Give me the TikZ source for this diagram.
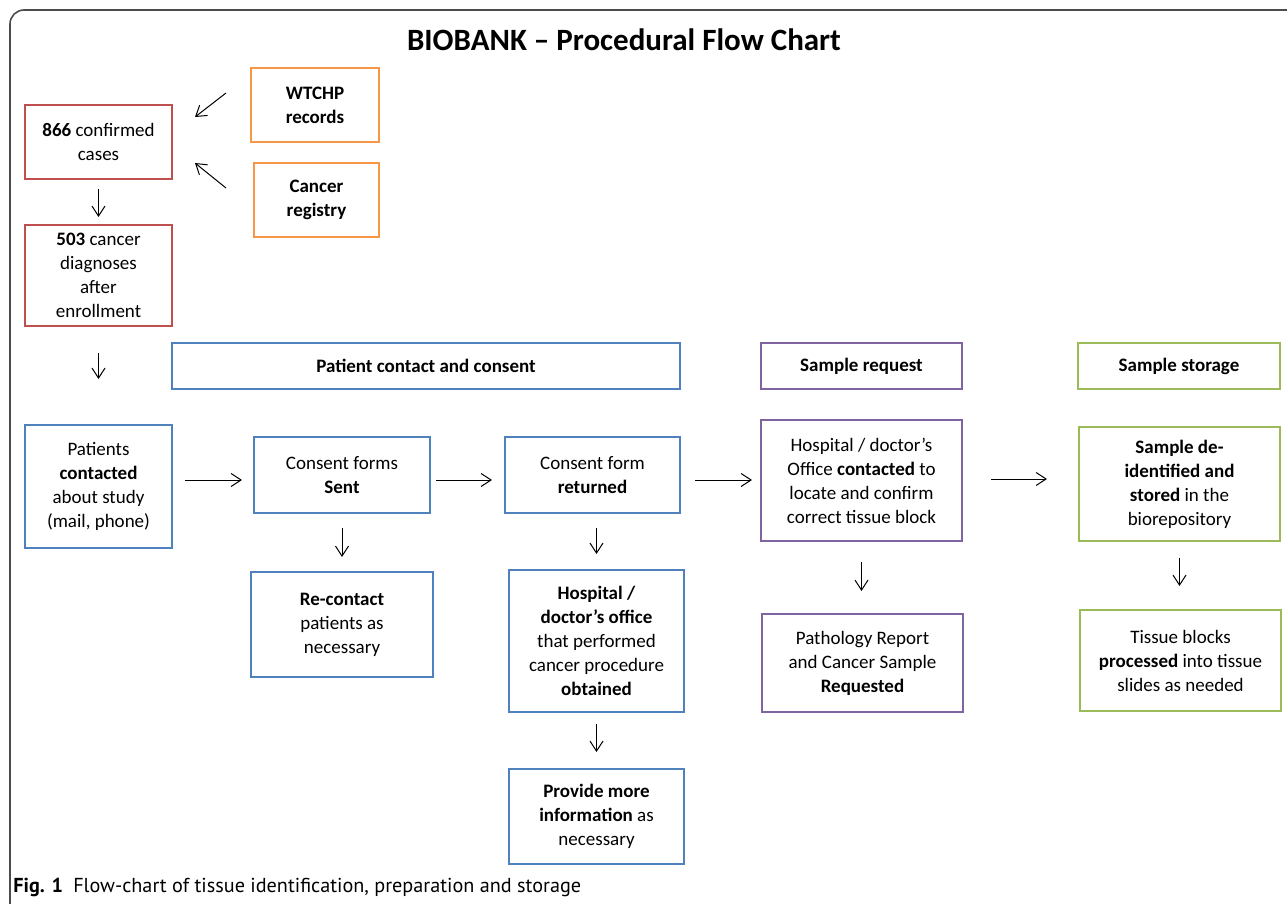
\documentclass[tikz,border=0pt]{standalone}
\usepackage{fontspec}
\setmainfont{Carlito}
\newfontfamily\capfont{PT Sans}
\usetikzlibrary{arrows.meta}
\definecolor{boxred}{HTML}{C0504D}
\definecolor{boxorange}{HTML}{F79646}
\definecolor{boxblue}{HTML}{4F81BD}
\definecolor{boxpurple}{HTML}{8064A2}
\definecolor{boxgreen}{HTML}{9BBB59}

\begin{document}
\begin{tikzpicture}[x=0.5pt,y=-0.5pt,
  stage/.style={draw=#1, line width=1pt, align=center, inner sep=0pt,
    font=\fontsize{9.5}{12}\selectfont},
  head/.style={stage=#1, font=\bfseries\fontsize{9.5}{12}\selectfont,
    minimum height=23pt},
  flow/.style={-{Straight Barb[length=5pt,width=6.5pt]}, line width=0.5pt}]
  \clip (0,0) rectangle (1287,904);
  \draw[line width=0.8pt, draw=black!70, rounded corners=7pt] (10,1000) -- (10,10) -- (1400,10);
  \node[font=\bfseries\fontsize{15.5}{18}\selectfont] (title) at (624,40) {BIOBANK – Procedural Flow Chart};

  % sources and cases
  \node[stage=boxred, minimum width=73.5pt, minimum height=37pt] (c866) at (98.5,142) {\textbf{866} confirmed\\cases};
  \node[stage=boxred, minimum width=73.5pt, minimum height=50.5pt] (c503) at (98.5,275.5) {\textbf{503} cancer\\diagnoses\\after\\enrollment};
  \node[stage=boxorange, minimum width=64pt, minimum height=37pt] (wtchp) at (315,105) {\textbf{WTCHP}\\\textbf{records}};
  \node[stage=boxorange, minimum width=62.5pt, minimum height=37pt] (registry) at (316.5,200) {\textbf{Cancer}\\\textbf{registry}};

  % column headings
  \node[head=boxblue, minimum width=254pt] (hdrconsent) at (426,366) {Patient contact and consent};
  \node[head=boxpurple, minimum width=100.5pt] (hdrrequest) at (861.5,366) {Sample request};
  \node[head=boxgreen, minimum width=101pt] (hdrstorage) at (1179,366) {Sample storage};

  % main row
  \node[stage=boxblue, minimum width=73.5pt, minimum height=61.5pt] (patients) at (98.5,486.5) {Patients\\\textbf{contacted}\\about study\\(mail, phone)};
  \node[stage=boxblue, minimum width=88pt, minimum height=38pt] (sent) at (342,475) {Consent forms\\\textbf{Sent}};
  \node[stage=boxblue, minimum width=87.5pt, minimum height=38pt] (returned) at (592.5,475) {Consent form\\\textbf{returned}};
  \node[stage=boxpurple, minimum width=100.5pt, minimum height=60.5pt] (hcontact) at (861.5,480.5) {Hospital / doctor’s\\Office \textbf{contacted} to\\locate and confirm\\correct tissue block};
  \node[stage=boxgreen, minimum width=100.5pt, minimum height=57pt] (deid) at (1179.5,484) {\textbf{Sample de-}\\\textbf{identified and}\\\textbf{stored} in the\\biorepository};

  % follow-up steps
  \node[stage=boxblue, minimum width=91pt, minimum height=52.5pt] (recontact) at (342,624.5) {\textbf{Re-contact}\\patients as\\necessary};
  \node[stage=boxblue, minimum width=87.5pt, minimum height=71pt] (hobtained) at (596.5,641) {\textbf{Hospital /}\\\textbf{doctor’s office}\\that performed\\cancer procedure\\\textbf{obtained}};
  \node[stage=boxblue, minimum width=87.5pt, minimum height=47.5pt] (provide) at (596.5,816.5) {\textbf{Provide more}\\\textbf{information} as\\necessary};
  \node[stage=boxpurple, minimum width=100.5pt, minimum height=49pt] (pathology) at (862.5,663) {Pathology Report\\and Cancer Sample\\\textbf{Requested}};
  \node[stage=boxgreen, minimum width=100.5pt, minimum height=50.5pt] (tissue) at (1180.5,660.5) {Tissue blocks\\\textbf{processed} into tissue\\slides as needed};

  % arrows
  \path (wtchp.west) ++(-24,-12) coordinate (wtchptail)
        (c866.east) ++(22,-25) coordinate (wtchptip)
        (registry.west) ++(-27,-12) coordinate (registrytail)
        (c866.east) ++(22,21) coordinate (registrytip);
  \draw[flow] (wtchptail) -- (wtchptip);
  \draw[flow] (registrytail) -- (registrytip);
  \draw[flow, shorten <=4.5pt, shorten >=3.5pt] (c866) -- (c503);
  \draw[flow, shorten <=13pt, shorten >=22.5pt] (c503) -- (patients);
  \draw[flow, shorten <=6pt, shorten >=5.5pt] (patients.east |- 0,480) -- (sent.west |- 0,480);
  \draw[flow, shorten <=2.5pt, shorten >=6pt] (sent.east |- 0,480) -- (returned.west |- 0,480);
  \draw[flow, shorten <=7pt, shorten >=4pt] (returned.east |- 0,480) -- (hcontact.west |- 0,480);
  \draw[flow, shorten <=14pt, shorten >=15.5pt] (hcontact.east |- 0,479) -- (deid.west |- 0,479);
  \draw[flow, shorten <=7pt, shorten >=7pt] (sent) -- (recontact);
  \draw[flow, shorten <=7pt, shorten >=7.5pt] (hobtained.north |- returned.south) -- (hobtained.north);
  \draw[flow, shorten <=5.5pt, shorten >=8pt] (hobtained) -- (provide);
  \draw[flow, shorten <=10pt, shorten >=11pt] (hcontact.south) -- (hcontact.south |- pathology.north);
  \draw[flow, shorten <=8pt, shorten >=11.5pt] (deid.south) -- (deid.south |- tissue.north);

  \node[anchor=west, inner sep=0pt, font=\capfont\fontsize{10.1}{12}\selectfont] (caption) at (13,887) {\textbf{Fig. 1}\hspace{0.5em}Flow-chart of tissue identification, preparation and storage};
\end{tikzpicture}
\end{document}
